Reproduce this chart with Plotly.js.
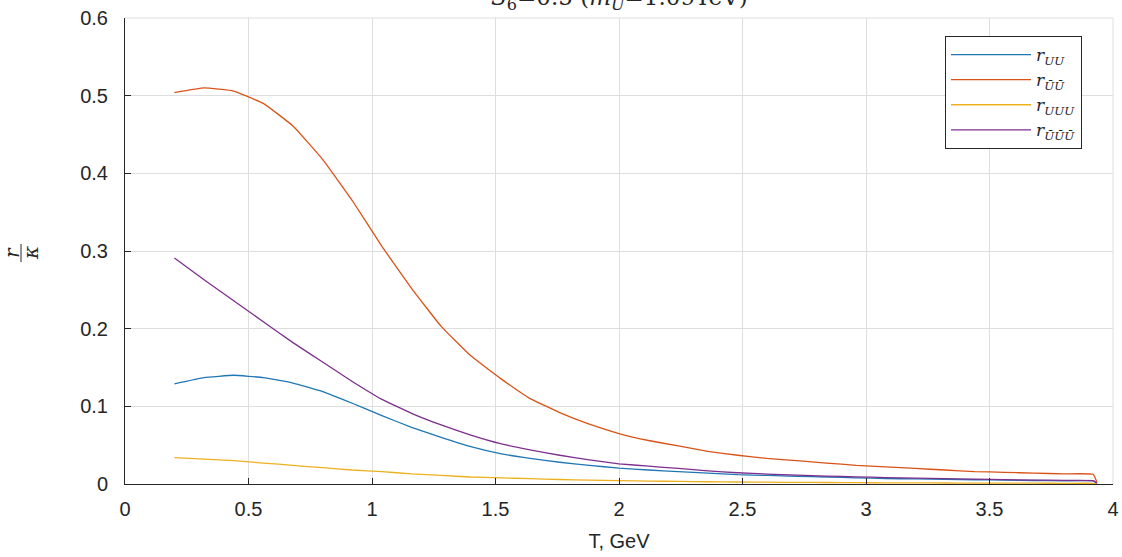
<!DOCTYPE html>
<html>
<head>
<meta charset="utf-8">
<script src="https://cdn.plot.ly/plotly-3.0.1.min.js"></script>
<style>html,body{margin:0;padding:0;background:#fff;}#chart{width:1122px;height:557px;}</style>
</head>
<body>
<div id="chart"></div>
<script>
// Temperature grid (GeV)
const T = [0.20,0.32,0.44,0.56,0.68,0.80,0.92,1.04,1.16,1.28,1.40,1.52,1.64,1.76,1.88,2.00,
           2.12,2.24,2.36,2.48,2.60,2.72,2.84,2.96,3.08,3.20,3.32,3.44,3.56,3.68,3.80,3.92,3.935];
// r_UU (blue)
const rUU = [0.129,0.137,0.140,0.137,0.130,0.119,0.104,0.088,0.073,0.060,0.048,0.039,0.033,0.028,0.024,0.0205,
             0.018,0.016,0.014,0.012,0.011,0.010,0.009,0.008,0.007,0.0065,0.006,0.0055,0.005,0.0045,0.004,0.004,0.001];
// r_ŪŪ (orange)
const rUbUb = [0.504,0.510,0.506,0.490,0.461,0.418,0.365,0.306,0.252,0.203,0.165,0.136,0.110,0.092,0.077,0.065,
               0.056,0.049,0.042,0.037,0.033,0.030,0.027,0.024,0.022,0.020,0.018,0.016,0.015,0.014,0.013,0.0125,0.002];
// r_UUU (yellow)
const rUUU = [0.034,0.032,0.030,0.027,0.024,0.021,0.018,0.016,0.013,0.011,0.009,0.008,0.0068,0.0058,0.005,0.0043,
              0.0038,0.0033,0.0029,0.0026,0.0023,0.0021,0.0019,0.0017,0.0015,0.0014,0.0013,0.0012,0.0011,0.001,0.0009,0.0009,0.0003];
// r_ŪŪŪ (purple)
const rUbUbUb = [0.291,0.263,0.236,0.209,0.182,0.157,0.132,0.109,0.091,0.076,0.063,0.052,0.044,0.037,0.031,0.026,
                 0.023,0.020,0.017,0.0145,0.0128,0.0113,0.0102,0.0092,0.0083,0.0075,0.0068,0.0062,0.0056,0.0051,0.0047,0.0044,0.001];

const names = ['<i>r</i><sub><i>UU</i></sub>','<i>r</i><sub><i>ŪŪ</i></sub>','<i>r</i><sub><i>UUU</i></sub>','<i>r</i><sub><i>ŪŪŪ</i></sub>'];
const colors = ['#1f77b4','#D95319','#EDB120','#7E2F8E'];
const series = [rUU, rUbUb, rUUU, rUbUbUb];

const traces = series.map((s,i)=>({
  x: T, y: s, type:'scatter', mode:'lines', name: names[i],
  line:{color:colors[i], width:1.3, shape:'spline', smoothing:0.3}
}));

const tickFont = {family:'Liberation Sans, Arial, sans-serif', size:20, color:'#262626'};
const L = 125, W = 988, TOP = 18, H = 466;
const px2x = p => (p - L) / W;
const py2y = p => (TOP + H - p) / H;

const layout = {
  width:1122, height:557,
  margin:{l:L, r:1122-L-W, t:TOP, b:557-TOP-H},
  paper_bgcolor:'#fff', plot_bgcolor:'#fff',
  showlegend:true,
  legend:{x:px2x(945), y:py2y(36), xanchor:'left', yanchor:'top', bordercolor:'#262626', borderwidth:1,
          bgcolor:'#fff', font:{family:'DejaVu Serif, serif', size:17, color:'#262626'},
          tracegroupgap:0, itemwidth:80},
  xaxis:{range:[0,4], tickvals:[0,0.5,1,1.5,2,2.5,3,3.5,4], ticktext:['0','0.5','1','1.5','2','2.5','3','3.5','4'],
         showgrid:true, gridcolor:'#dedede', gridwidth:1, zeroline:false,
         showline:true, linecolor:'#262626', linewidth:1, ticks:'inside', ticklen:6, tickcolor:'#262626',
         tickfont:tickFont, ticklabelstandoff:7, title:{text:'T, GeV', font:tickFont, standoff:14}},
  yaxis:{range:[0,0.6], tickvals:[0,0.1,0.2,0.3,0.4,0.5,0.6], ticktext:['0','0.1','0.2','0.3','0.4','0.5','0.6'],
         showgrid:true, gridcolor:'#dedede', gridwidth:1, zeroline:false,
         showline:true, linecolor:'#262626', linewidth:1, ticks:'inside', ticklen:6, tickcolor:'#262626',
         tickfont:tickFont, ticklabelstandoff:12, title:{text:''}},
  shapes:[
    {type:'line', xref:'paper', yref:'paper', x0:0, x1:1, y0:1, y1:1, line:{color:'#dedede', width:1}},
    {type:'line', xref:'paper', yref:'paper', x0:1, x1:1, y0:0, y1:1, line:{color:'#dedede', width:1}},
    {type:'line', xref:'paper', yref:'paper', x0:px2x(21), x1:px2x(21), y0:py2y(244), y1:py2y(262), line:{color:'#262626', width:1}}
  ],
  annotations:[
    {xref:'paper', yref:'paper', x:0.5, y:py2y(16), xanchor:'center', yanchor:'bottom', showarrow:false,
     text:'<i>S</i><sub>6</sub>=0.5 (<i>m</i><sub><i>U</i></sub>=1.09TeV)',
     font:{family:'DejaVu Serif, serif', size:23, color:'#262626'}},
    {xref:'paper', yref:'paper', x:px2x(12), y:py2y(253), xanchor:'center', yanchor:'middle', showarrow:false,
     textangle:-90, text:'<i>r</i>', font:{family:'DejaVu Serif, serif', size:20, color:'#262626'}},
    {xref:'paper', yref:'paper', x:px2x(31), y:py2y(253), xanchor:'center', yanchor:'middle', showarrow:false,
     textangle:-90, text:'<i>κ</i>', font:{family:'DejaVu Serif, serif', size:20, color:'#262626'}}
  ]
};
Plotly.newPlot('chart', traces, layout, {displayModeBar:false, staticPlot:true});
</script>
</body>
</html>
